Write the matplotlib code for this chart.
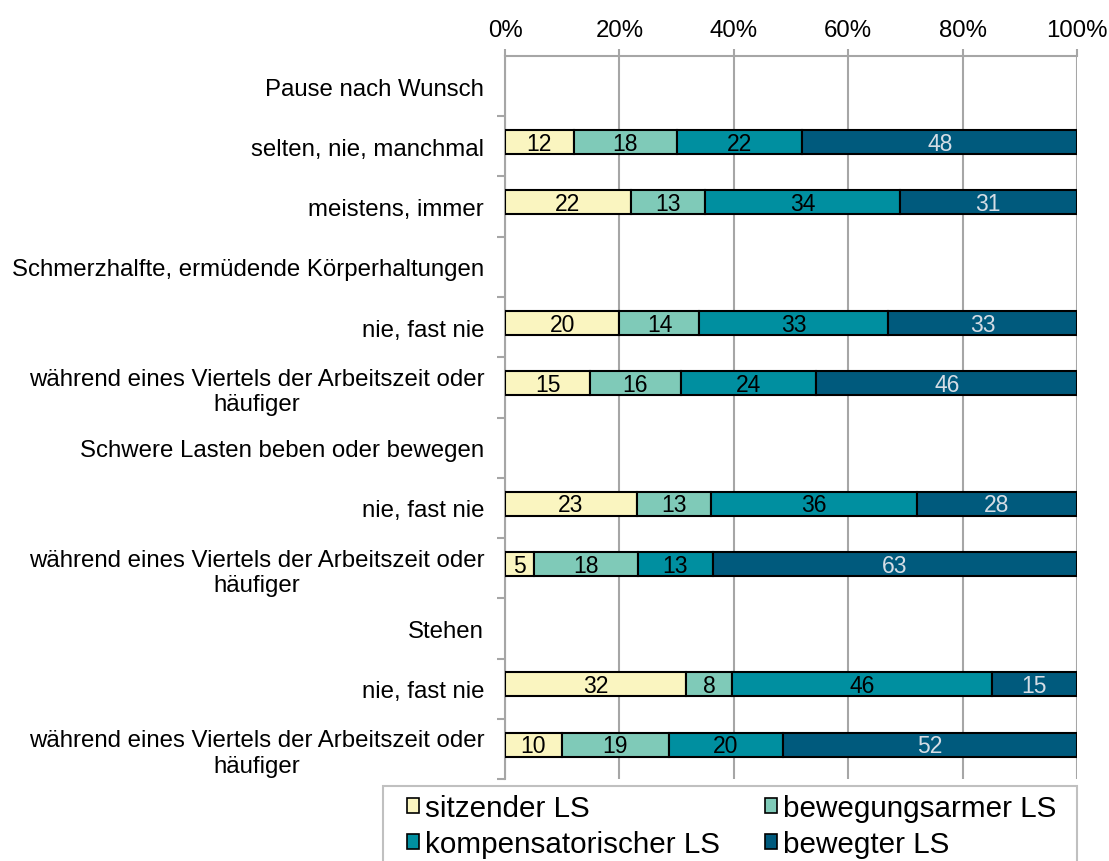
import numpy as np
import matplotlib
matplotlib.use("Agg")
import matplotlib.pyplot as plt
from matplotlib.patches import Rectangle

plt.rcParams['font.family'] = ['Liberation Sans', 'DejaVu Sans']

# Zeilen (Gruppenueberschriften ohne Balken)
zeilen = ["Pause nach Wunsch",
          "selten, nie, manchmal",
          "meistens, immer",
          "Schmerzhalfte, ermüdende Körperhaltungen",
          "nie, fast nie",
          "während eines Viertels der Arbeitszeit oder\nhäufiger",
          "Schwere Lasten beben oder bewegen",
          "nie, fast nie",
          "während eines Viertels der Arbeitszeit oder\nhäufiger",
          "Stehen",
          "nie, fast nie",
          "während eines Viertels der Arbeitszeit oder\nhäufiger"]

serien = ["sitzender LS", "bewegungsarmer LS", "kompensatorischer LS", "bewegter LS"]

sitzend      = [np.nan, 12, 22, np.nan, 20, 15, np.nan, 23, 5, np.nan, 32, 10]
bewegungsarm = [np.nan, 18, 13, np.nan, 14, 16, np.nan, 13, 18, np.nan, 8, 19]
kompensat    = [np.nan, 22, 34, np.nan, 33, 24, np.nan, 36, 13, np.nan, 46, 20]
bewegt       = [np.nan, 48, 31, np.nan, 33, 46, np.nan, 28, 63, np.nan, 15, 52]

farben = ["#FAF5C0", "#7FCAB8", "#008FA0", "#005A7D"]
textfarben = ["black", "black", "black", "#D5DDE5"]

daten = np.array([sitzend, bewegungsarm, kompensat, bewegt], dtype=float)
summe = np.nansum(daten, axis=0)
summe[summe == 0] = 1
anteile = daten / summe

fig = plt.figure(figsize=(11.09, 8.62), dpi=100)
ax = fig.add_axes([0.4554, 0.0951, 0.5157, 0.8388])

y = np.arange(len(zeilen))
links = np.zeros(len(zeilen))
balken = []
for k in range(4):
    breite = np.nan_to_num(anteile[k])
    mask = ~np.isnan(anteile[k])
    b = ax.barh(y[mask] - 0.07, breite[mask], left=links[mask], height=0.4,
                color=farben[k], edgecolor="black", linewidth=1.5,
                label=serien[k], zorder=3)
    balken.append(b)
    for i in np.where(mask)[0]:
        ax.text(links[i] + breite[i] / 2, y[i] - 0.05, "%d" % daten[k, i],
                ha="center", va="center", fontsize=16.5, color=textfarben[k],
                zorder=4)
    links = links + breite

ax.set_xlim(0, 1)
ax.set_ylim(len(zeilen) - 0.5, -0.5)
ax.set_xticks(np.linspace(0, 1, 6))
ax.set_xticklabels(["0%", "20%", "40%", "60%", "80%", "100%"], fontsize=17.3)
ax.xaxis.tick_top()
ax.tick_params(axis="x", length=5, color="#A6A6A6", width=1.5, pad=6)
ax.grid(axis="x", color="#A6A6A6", linewidth=1.5, zorder=0)

ax.set_yticks(y)
ax.set_yticklabels(zeilen, fontsize=17.3)
for lab in ax.get_yticklabels():
    lab.set_multialignment("center")
ax.tick_params(axis="y", length=0, pad=15)
ax.set_yticks(np.arange(len(zeilen)) + 0.5, minor=True)
ax.tick_params(axis="y", which="minor", length=6, color="#A6A6A6", width=1.5)

for s in ["right", "bottom"]:
    ax.spines[s].set_visible(False)
for s in ["left", "top"]:
    ax.spines[s].set_color("#A6A6A6")
    ax.spines[s].set_linewidth(1.5)

# Legendenrahmen
fig.patches.append(Rectangle((383 / 1109, -0.05), (1077 - 383) / 1109, 0.05 + 1 - 787 / 862,
                             transform=fig.transFigure, facecolor="white",
                             edgecolor="#C0C0C0", linewidth=1.5))

reihenfolge = [0, 2, 1, 3]
leg = fig.legend([balken[k] for k in reihenfolge], [serien[k] for k in reihenfolge],
                 loc="upper left", bbox_to_anchor=(407 / 1109, 1 - 795 / 862),
                 ncol=2, fontsize=21.3, frameon=False,
                 handlelength=0.42, handleheight=0.42, handletextpad=0.2,
                 labelspacing=0.28, borderpad=0, borderaxespad=0, columnspacing=1.5)
for h in leg.legend_handles:
    h.set_linewidth(1.2)

fig.savefig("out.png", dpi=100)
